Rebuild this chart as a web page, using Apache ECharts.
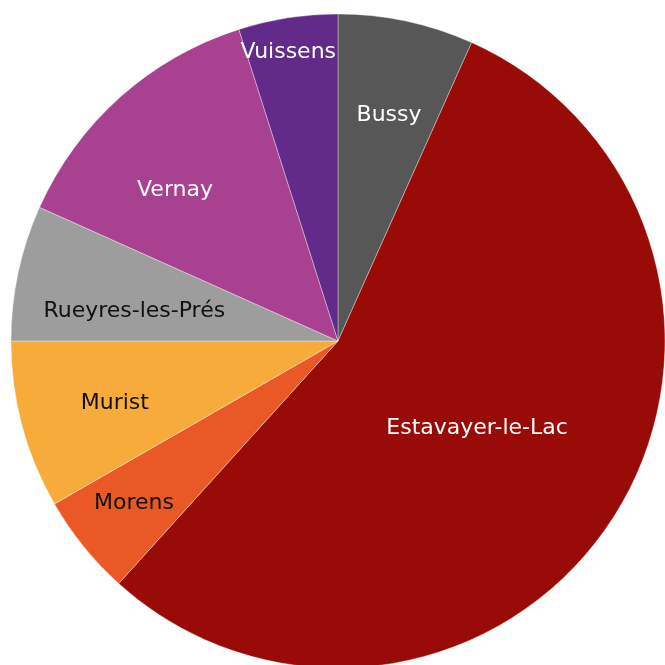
<!DOCTYPE html>
<html>
<head>
<meta charset="utf-8">
<script src="https://cdn.jsdelivr.net/npm/echarts@6/dist/echarts.min.js"></script>
<style>
  html, body { margin: 0; padding: 0; background: #fff; }
  #chart { width: 665px; height: 665px; }
</style>
</head>
<body>
<div id="chart"></div>
<script>
'use strict';

// communes, clockwise from 12 o'clock
const communes = ['Bussy', 'Estavayer-le-Lac', 'Morens', 'Murist', 'Rueyres-les-Prés', 'Vernay', 'Vuissens'];
const shares   = [6.7, 55.0, 5.0, 8.3, 6.7, 13.4, 4.9];

const colors     = ['#575757', '#990b06', '#e95825', '#f7ab3b', '#9d9d9d', '#a84190', '#622b8a'];
const textColors = ['#fff', '#fff', '#111', '#111', '#111', '#fff', '#fff'];
// label placement: fraction of radius, and angle nudge (deg) from the slice middle
const labelRadius = [0.712, 0.500, 0.795, 0.708, 0.630, 0.682, 0.900];
const labelNudge  = [0.6, -1.4, 0.6, -0.5, -3.5, -5.2, -0.9];

const CX = 338, CY = 341, R = 327;

const total = shares.reduce((a, b) => a + b, 0);
const midAngles = [];
let acc = 0;
shares.forEach((v, i) => {
    midAngles.push(((acc + v / 2) / total * 360 + labelNudge[i]) * Math.PI / 180);
    acc += v;
});

const chart = echarts.init(document.getElementById('chart'), null, {renderer: 'canvas'});

chart.setOption({
    animation: false,
    series: [{
        type: 'pie',
        center: [CX, CY],
        radius: [0, R],
        startAngle: 90,
        clockwise: true,
        avoidLabelOverlap: false,
        itemStyle: {borderColor: 'rgba(255,255,255,0.6)', borderWidth: 0.6},
        label: {
            show: true,
            position: 'inside',
            fontFamily: '"DejaVu Sans", sans-serif',
            fontSize: 22
        },
        labelLine: {show: false},
        labelLayout: params => {
            const i = params.dataIndex;
            const a = midAngles[i];
            const r = labelRadius[i] * R;
            return {
                x: CX + r * Math.sin(a),
                y: CY + 1 - r * Math.cos(a),
                align: 'center',
                verticalAlign: 'middle'
            };
        },
        emphasis: {disabled: true},
        data: communes.map((name, i) => ({
            name,
            value: shares[i],
            itemStyle: {color: colors[i]},
            label: {color: textColors[i], formatter: '{b}'}
        }))
    }]
});
</script>
</body>
</html>
